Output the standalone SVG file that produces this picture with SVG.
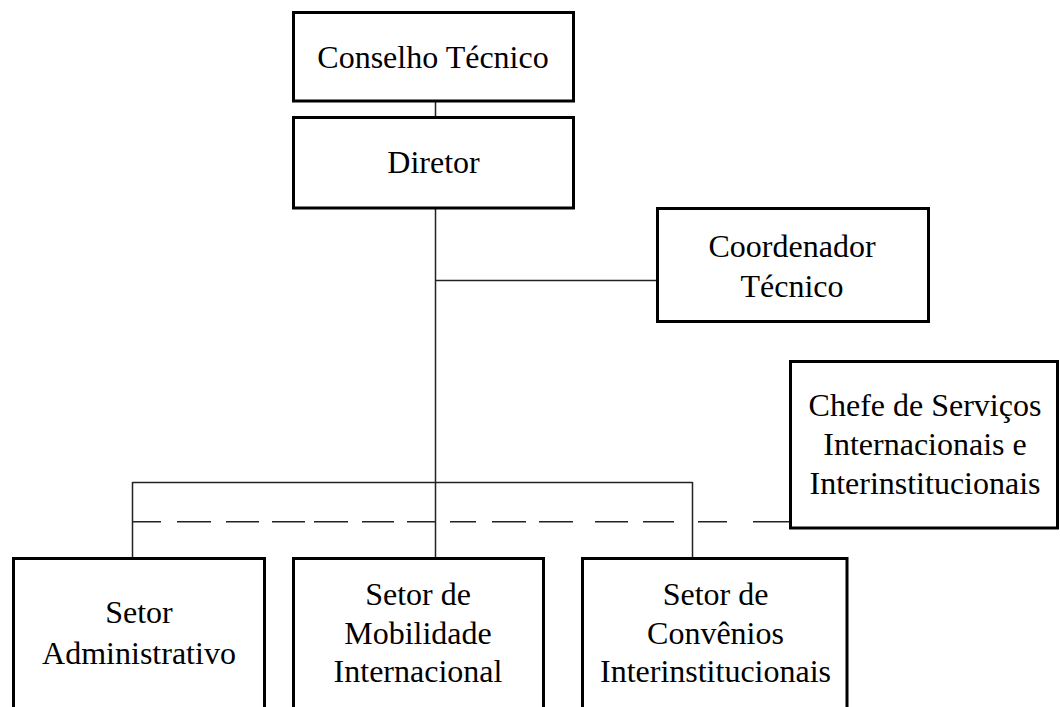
<svg xmlns="http://www.w3.org/2000/svg" width="1060" height="707" viewBox="0 0 1060 707">
<style>
.box{fill:#fff;stroke:#000;stroke-width:3}
.t{font-family:"Liberation Serif","Times New Roman",serif;font-size:32px;fill:#000;text-anchor:middle}
.c{fill:none;stroke:#222;stroke-width:1.5}
</style>
<rect width="1060" height="707" fill="#fff"/>
<g id="connectors">
<path class="c" d="M435.5 101V117M435.5 208V558M436 280.5H657M132.5 482.5H692.5M132.5 482V558M692.5 482V558"/>
<path class="c" d="M132 521.7H161M177 521.7H211M226 521.7H259M272 521.7H305M314 521.7H348M362 521.7H394M407 521.7H436M450 521.7H476M492 521.7H526M539 521.7H573M595 521.7H628M643 521.7H674M698 521.7H727M753 521.7H790"/>
</g>
<g id="conselho">
<rect class="box" x="293.5" y="12.5" width="280" height="88.5"/>
<text class="t" x="433" y="68">Conselho Técnico</text>
</g>
<g id="diretor">
<rect class="box" x="293.5" y="117.5" width="280" height="90.5"/>
<text class="t" x="433.5" y="173">Diretor</text>
</g>
<g id="coordenador">
<rect class="box" x="657.5" y="208.5" width="271" height="113"/>
<text class="t" x="792" y="257">Coordenador</text>
<text class="t" x="792" y="296.5">Técnico</text>
</g>
<g id="chefe">
<rect class="box" x="790.5" y="361.5" width="267" height="166.5"/>
<text class="t" x="925" y="416">Chefe de Serviços</text>
<text class="t" x="925" y="455">Internacionais e</text>
<text class="t" x="925" y="493.5">Interinstitucionais</text>
</g>
<g id="setor-administrativo">
<rect class="box" x="13.5" y="558.5" width="251" height="170"/>
<text class="t" x="139" y="623">Setor</text>
<text class="t" x="139" y="664">Administrativo</text>
</g>
<g id="setor-mobilidade">
<rect class="box" x="293.5" y="558.5" width="250" height="170"/>
<text class="t" x="418" y="605">Setor de</text>
<text class="t" x="418" y="644">Mobilidade</text>
<text class="t" x="418" y="682">Internacional</text>
</g>
<g id="setor-convenios">
<rect class="box" x="582.5" y="558.5" width="264.5" height="170"/>
<text class="t" x="715.5" y="605">Setor de</text>
<text class="t" x="715.5" y="644">Convênios</text>
<text class="t" x="715.5" y="682">Interinstitucionais</text>
</g>
</svg>
